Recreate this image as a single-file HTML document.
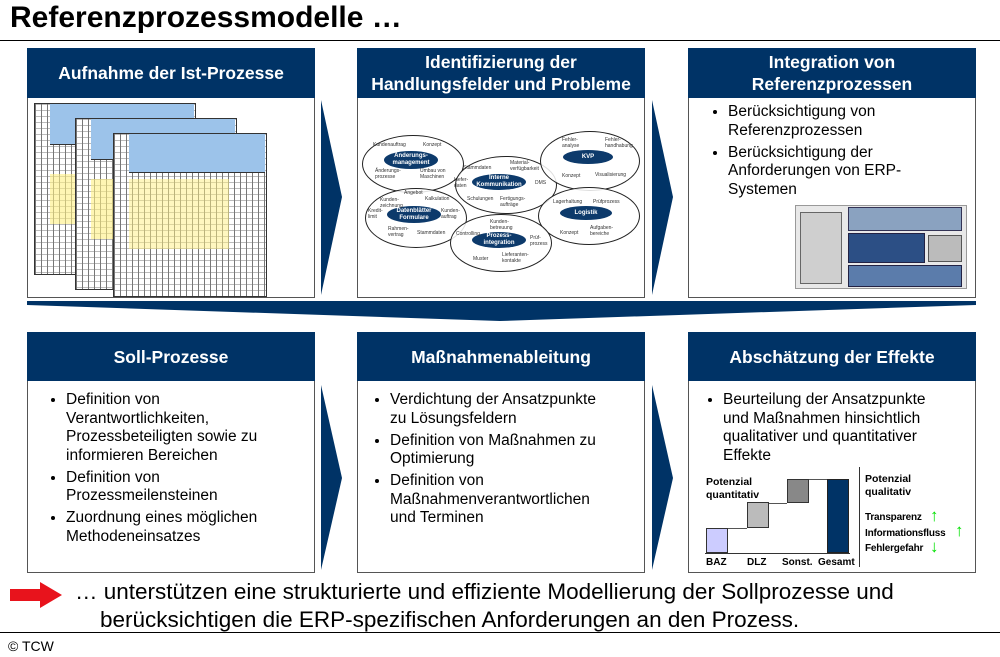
<!DOCTYPE html>
<html><head><meta charset="utf-8"><style>
body{margin:0;width:1000px;height:657px;position:relative;background:#fff;font-family:"Liberation Sans",sans-serif;overflow:hidden}
.a{position:absolute}
.hd{position:absolute;background:#003366;color:#fff;font-weight:bold;font-size:17.5px;text-align:center;display:flex;align-items:center;justify-content:center;line-height:22px}
.bd{position:absolute;border:1px solid #555;background:#fff;box-sizing:border-box}
ul{margin:0;padding:0 0 0 38px;font-size:15.5px;line-height:18.5px;color:#000}
li{margin-bottom:3.5px}
.sheet{position:absolute;border:1px solid #333;background:#fff;
background-image:linear-gradient(90deg,#777 1px,transparent 1px),linear-gradient(#bbb 1px,transparent 1px);background-size:9px 100%,100% 8px}
.sh{position:absolute;background:#9cc3ea;border-bottom:1px solid #333}
.el{position:absolute;border:1px solid #222;border-radius:50%;background:rgba(255,255,255,.85)}
.pill{position:absolute;background:#0d3a6b;color:#fff;border-radius:50%;font-size:6px;font-weight:bold;text-align:center;display:flex;align-items:center;justify-content:center;line-height:7px}
.t{position:absolute;font-size:5px;color:#333;line-height:6px}
.ar{position:absolute;color:#00e000;font-size:17px;font-weight:bold;line-height:17px}
</style></head><body>
<div class="a" style="left:10px;top:1px;font-size:30px;font-weight:bold">Referenzprozessmodelle …</div>
<div class="a" style="left:0;top:40px;width:1000px;height:1px;background:#000"></div>

<!-- top row -->
<div class="bd" style="left:27px;top:48px;width:288px;height:250px"></div>
<div class="hd" style="left:27px;top:48px;width:288px;height:50px">Aufnahme der Ist-Prozesse</div>
<div class="bd" style="left:357px;top:48px;width:288px;height:250px"></div>
<div class="hd" style="left:357px;top:48px;width:288px;height:50px">Identifizierung der<br>Handlungsfelder und Probleme</div>
<div class="bd" style="left:688px;top:48px;width:288px;height:250px"></div>
<div class="hd" style="left:688px;top:48px;width:288px;height:50px">Integration von<br>Referenzprozessen</div>

<!-- sheets -->
<div class="sheet" style="left:34px;top:103px;width:160px;height:170px;background-size:6px 100%,100% 6px"><div class="sh" style="left:15px;top:0;width:144px;height:40px"></div><div class="a" style="left:15px;top:70px;width:100px;height:50px;background:rgba(255,240,130,.6)"></div></div>
<div class="sheet" style="left:75px;top:118px;width:160px;height:170px;background-size:6px 100%,100% 6px"><div class="sh" style="left:15px;top:0;width:144px;height:40px"></div><div class="a" style="left:15px;top:60px;width:100px;height:60px;background:rgba(255,240,130,.6)"></div></div>
<div class="sheet" style="left:113px;top:133px;width:152px;height:162px;background-size:6px 100%,100% 6px"><div class="sh" style="left:15px;top:0;width:136px;height:38px"></div><div class="a" style="left:15px;top:45px;width:100px;height:70px;background:rgba(255,240,130,.5)"></div></div>

<!-- ellipses -->
<div class="el" style="left:362px;top:135px;width:100px;height:56px"></div>
<div class="el" style="left:455px;top:156px;width:100px;height:56px"></div>
<div class="el" style="left:540px;top:131px;width:98px;height:58px"></div>
<div class="el" style="left:365px;top:188px;width:100px;height:58px"></div>
<div class="el" style="left:538px;top:187px;width:100px;height:56px"></div>
<div class="el" style="left:450px;top:214px;width:100px;height:56px"></div>
<div class="pill" style="left:384px;top:151px;width:54px;height:18px">Änderungs-<br>management</div>
<div class="pill" style="left:472px;top:174px;width:54px;height:16px">Interne<br>Kommunikation</div>
<div class="pill" style="left:563px;top:150px;width:50px;height:14px">KVP</div>
<div class="pill" style="left:387px;top:206px;width:54px;height:17px">Datenblätter<br>Formulare</div>
<div class="pill" style="left:560px;top:206px;width:52px;height:14px">Logistik</div>
<div class="pill" style="left:472px;top:232px;width:54px;height:16px">Prozess-<br>integration</div>
<div class="t" style="left:373px;top:142px">Kundenauftrag</div><div class="t" style="left:423px;top:142px">Konzept</div>
<div class="t" style="left:375px;top:168px">Änderungs-<br>prozesse</div><div class="t" style="left:420px;top:168px">Umbau von<br>Maschinen</div>
<div class="t" style="left:463px;top:165px">Stammdaten</div><div class="t" style="left:510px;top:160px">Material-<br>verfügbarkeit</div>
<div class="t" style="left:454px;top:177px">Liefer-<br>daten</div><div class="t" style="left:535px;top:180px">DMS</div>
<div class="t" style="left:467px;top:196px">Schulungen</div><div class="t" style="left:500px;top:196px">Fertigungs-<br>aufträge</div>
<div class="t" style="left:562px;top:137px">Fehler-<br>analyse</div><div class="t" style="left:605px;top:137px">Fehler-<br>handhabung</div>
<div class="t" style="left:562px;top:173px">Konzept</div><div class="t" style="left:595px;top:172px">Visualisierung</div>
<div class="t" style="left:380px;top:197px">Kunden-<br>zeichnung</div><div class="t" style="left:404px;top:190px">Angebot</div><div class="t" style="left:425px;top:196px">Kalkulation</div>
<div class="t" style="left:368px;top:208px">Kredit-<br>limit</div><div class="t" style="left:441px;top:208px">Kunden-<br>auftrag</div>
<div class="t" style="left:388px;top:226px">Rahmen-<br>vertrag</div><div class="t" style="left:417px;top:230px">Stammdaten</div>
<div class="t" style="left:553px;top:199px">Lagerhaltung</div><div class="t" style="left:593px;top:199px">Prüfprozess</div>
<div class="t" style="left:560px;top:230px">Konzept</div><div class="t" style="left:590px;top:225px">Aufgaben-<br>bereiche</div>
<div class="t" style="left:490px;top:219px">Kunden-<br>betreuung</div><div class="t" style="left:456px;top:231px">Controlling</div><div class="t" style="left:530px;top:235px">Prüf-<br>prozess</div>
<div class="t" style="left:473px;top:256px">Muster</div><div class="t" style="left:502px;top:252px">Lieferanten-<br>kontakte</div>

<div class="a" style="left:693px;top:103px"><ul style="padding-left:35px"><li>Berücksichtigung von<br>Referenzprozessen</li><li>Berücksichtigung der<br>Anforderungen von ERP-<br>Systemen</li></ul></div>
<!-- integration img -->
<div class="a" style="left:795px;top:205px;width:170px;height:82px;background:#e8e8e8;border:1px solid #999"></div>
<div class="a" style="left:800px;top:212px;width:40px;height:70px;background:#cfcfcf;border:1px solid #666"></div>
<div class="a" style="left:848px;top:207px;width:112px;height:22px;background:#8aa2c0;border:1px solid #335"></div>
<div class="a" style="left:848px;top:233px;width:75px;height:28px;background:#2c4f85;border:1px solid #224"></div>
<div class="a" style="left:848px;top:265px;width:112px;height:20px;background:#5b7cab;border:1px solid #224"></div>
<div class="a" style="left:928px;top:235px;width:32px;height:25px;background:#bbb;border:1px solid #555"></div>

<!-- chevrons -->
<svg class="a" style="left:0;top:0" width="1000" height="657">
<polygon points="321,100 342,197 321,295" fill="#003366"/>
<polygon points="652,100 673,197 652,295" fill="#003366"/>
<polygon points="321,385 342,478 321,570" fill="#003366"/>
<polygon points="652,385 673,478 652,570" fill="#003366"/>
<polygon points="27,301 976,301 976,305 500,321 27,305" fill="#003366"/>
<polygon points="10,589 40,589 40,582 62,595 40,608 40,601 10,601" fill="#e8131c"/>
</svg>

<!-- bottom row -->
<div class="bd" style="left:27px;top:332px;width:288px;height:241px"></div>
<div class="hd" style="left:27px;top:332px;width:288px;height:49px">Soll-Prozesse</div>
<div class="bd" style="left:357px;top:332px;width:288px;height:241px"></div>
<div class="hd" style="left:357px;top:332px;width:288px;height:49px">Maßnahmenableitung</div>
<div class="bd" style="left:688px;top:332px;width:288px;height:241px"></div>
<div class="hd" style="left:688px;top:332px;width:288px;height:49px">Abschätzung der Effekte</div>

<div class="a" style="left:28px;top:391px"><ul><li>Definition von<br>Verantwortlichkeiten,<br>Prozessbeteiligten sowie zu<br>informieren Bereichen</li><li>Definition von<br>Prozessmeilensteinen</li><li>Zuordnung eines möglichen<br>Methodeneinsatzes</li></ul></div>
<div class="a" style="left:358px;top:391px"><ul style="padding-left:32px"><li>Verdichtung der Ansatzpunkte<br>zu Lösungsfeldern</li><li>Definition von Maßnahmen zu<br>Optimierung</li><li>Definition von<br>Maßnahmenverantwortlichen<br>und Terminen</li></ul></div>
<div class="a" style="left:689px;top:391px"><ul style="padding-left:34px"><li>Beurteilung der Ansatzpunkte<br>und Maßnahmen hinsichtlich<br>qualitativer und quantitativer<br>Effekte</li></ul></div>

<!-- chart -->
<div class="a" style="left:706px;top:476px;font-size:10.5px;font-weight:bold;line-height:13px">Potenzial<br>quantitativ</div>
<div class="a" style="left:705px;top:553px;width:145px;height:1px;background:#333"></div>
<div class="a" style="left:706px;top:528px;width:22px;height:25px;background:#ccccff;border:1px solid #333;box-sizing:border-box"></div>
<div class="a" style="left:747px;top:502px;width:22px;height:26px;background:#bbb;border:1px solid #333;box-sizing:border-box"></div>
<div class="a" style="left:787px;top:479px;width:22px;height:24px;background:#888;border:1px solid #333;box-sizing:border-box"></div>
<div class="a" style="left:827px;top:479px;width:22px;height:74px;background:#003366;border:1px solid #222;box-sizing:border-box"></div>
<div class="a" style="left:728px;top:528px;width:19px;height:1px;background:#555"></div>
<div class="a" style="left:769px;top:503px;width:18px;height:1px;background:#555"></div>
<div class="a" style="left:809px;top:479px;width:18px;height:1px;background:#555"></div>
<div class="a" style="left:706px;top:557px;font-size:10px;font-weight:bold">BAZ</div>
<div class="a" style="left:747px;top:557px;font-size:10px;font-weight:bold">DLZ</div>
<div class="a" style="left:782px;top:557px;font-size:10px;font-weight:bold">Sonst.</div>
<div class="a" style="left:818px;top:557px;font-size:10px;font-weight:bold">Gesamt</div>
<div class="a" style="left:859px;top:467px;width:1px;height:100px;background:#333"></div>
<div class="a" style="left:865px;top:473px;font-size:10.5px;font-weight:bold;line-height:13px">Potenzial<br>qualitativ</div>
<div class="a" style="left:865px;top:510px;font-size:10px;font-weight:bold;line-height:15.5px;letter-spacing:-0.2px">Transparenz<br>Informationsfluss<br>Fehlergefahr</div>
<div class="ar" style="left:930px;top:507px">↑</div>
<div class="ar" style="left:955px;top:522px">↑</div>
<div class="ar" style="left:930px;top:538px">↓</div>

<div class="a" style="left:75px;top:578px;font-size:22.5px;line-height:28px">… unterstützen eine strukturierte und effiziente Modellierung der Sollprozesse und<br><span style="padding-left:25px">berücksichtigen die ERP-spezifischen Anforderungen an den Prozess.</span></div>
<div class="a" style="left:0;top:632px;width:1000px;height:1px;background:#000"></div>
<div class="a" style="left:8px;top:638px;font-size:14px">© TCW</div>
</body></html>
